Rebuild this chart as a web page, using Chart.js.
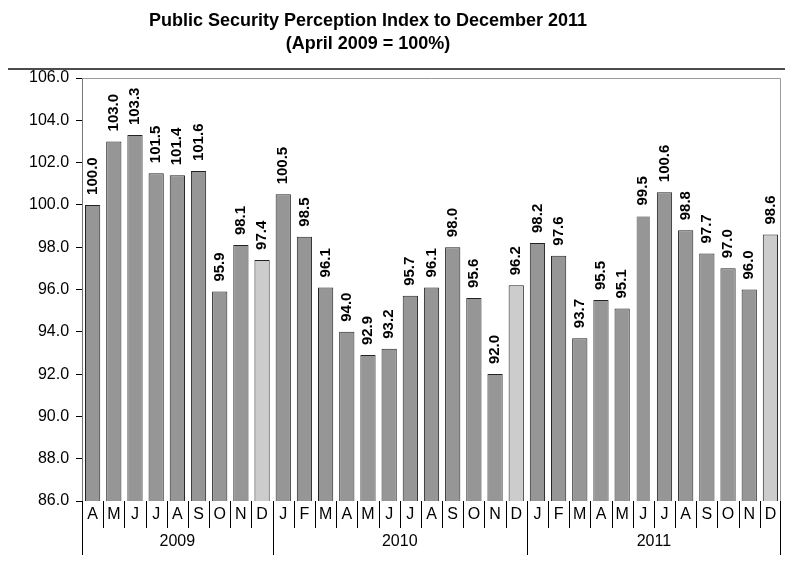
<!DOCTYPE html>
<html>
<head>
<meta charset="utf-8">
<script src="https://cdn.jsdelivr.net/npm/chart.js@4"></script>
<style>
  body { margin: 0; background: #fff; }
  #wrap { width: 785px; height: 566px; }
</style>
</head>
<body>
<div id="wrap"><canvas id="myChart"></canvas></div>
<script>
// months shown under each bar
const months = ["A","M","J","J","A","S","O","N","D",
  "J","F","M","A","M","J","J","A","S","O","N","D",
  "J","F","M","A","M","J","J","A","S","O","N","D"];

// year groups: label + how many months it covers
const years = ["2009", "2010", "2011"];
const yearSpans = [9, 12, 12];

// index values (April 2009 = 100)
const values = [100.0, 103.0, 103.3, 101.5, 101.4, 101.6, 95.9, 98.1, 97.4,
  100.5, 98.5, 96.1, 94.0, 92.9, 93.2, 95.7, 96.1, 98.0, 95.6, 92.0, 96.2,
  98.2, 97.6, 93.7, 95.5, 95.1, 99.5, 100.6, 98.8, 97.7, 97.0, 96.0, 98.6];

const titleLines = ["Public Security Perception Index to December 2011", "(April 2009 = 100%)"];

const FONT = "'Liberation Sans', Arial, Helvetica, sans-serif";

const barColors = values.map((v, i) => {
  if (months[i] === "D") return "#cccccc";
  return "#969696";
});
const borderColors = values.map((v, i) => (i === 26 ? "rgba(0,0,0,0)" : "#222"));

// draws title, value labels, month / year rows and the frame
const decorations = {
  id: "decorations",
  afterDraw(chart) {
    const ctx = chart.ctx;
    const area = chart.chartArea;
    const x = chart.scales.x;
    const meta = chart.getDatasetMeta(0);
    const half = (x.getPixelForValue(1) - x.getPixelForValue(0)) / 2;

    ctx.save();

    // title
    ctx.fillStyle = "#000";
    ctx.font = "bold 18px " + FONT;
    ctx.textAlign = "center";
    ctx.textBaseline = "alphabetic";
    ctx.fillText(titleLines[0], 368, 26);
    ctx.fillText(titleLines[1], 368, 49);

    // rule under the title
    ctx.strokeStyle = "#111";
    ctx.lineWidth = 1.5;
    ctx.beginPath();
    ctx.moveTo(8, 69);
    ctx.lineTo(785, 69);
    ctx.stroke();

    // frame top / right
    ctx.strokeStyle = "#999";
    ctx.lineWidth = 1;
    ctx.beginPath();
    ctx.moveTo(area.left, area.top + 0.5);
    ctx.lineTo(area.right - 0.5, area.top + 0.5);
    ctx.lineTo(area.right - 0.5, area.bottom);
    ctx.stroke();

    // value labels
    ctx.font = "bold 15px " + FONT;
    ctx.textAlign = "left";
    ctx.textBaseline = "middle";
    meta.data.forEach((bar, i) => {
      ctx.save();
      ctx.translate(bar.x, bar.y - 10);
      ctx.rotate(-Math.PI / 2);
      ctx.fillText(values[i].toFixed(1), 0, 0);
      ctx.restore();
    });

    // month row
    const rowTop = area.bottom;
    const rowMid = rowTop + 27;
    const rowBot = rowTop + 54;
    ctx.strokeStyle = "#000";
    ctx.lineWidth = 1;
    ctx.font = "16px " + FONT;
    ctx.textAlign = "center";
    months.forEach((m, i) => {
      const cx = x.getPixelForValue(i);
      ctx.fillText(m, cx, rowTop + 14);
      const sx = Math.round(cx - half) + 0.5;
      ctx.beginPath();
      ctx.moveTo(sx, rowTop);
      ctx.lineTo(sx, rowMid);
      ctx.stroke();
    });
    const lastX = Math.round(x.getPixelForValue(months.length - 1) + half) - 0.5;
    ctx.beginPath();
    ctx.moveTo(lastX, rowTop);
    ctx.lineTo(lastX, rowMid);
    ctx.stroke();

    // year row
    let start = 0;
    years.forEach((y, k) => {
      const end = start + yearSpans[k] - 1;
      const x0 = x.getPixelForValue(start) - half;
      const x1 = x.getPixelForValue(end) + half;
      ctx.fillText(y, (x0 + x1) / 2, rowMid + 14);
      [x0, x1].forEach(px => {
        const sx = Math.min(Math.round(px) + 0.5, lastX);
        ctx.beginPath();
        ctx.moveTo(sx, rowMid);
        ctx.lineTo(sx, rowBot);
        ctx.stroke();
      });
      start = end + 1;
    });

    ctx.restore();
  }
};

const ctx = document.getElementById("myChart").getContext("2d");
const chart = new Chart(ctx, {
  type: "bar",
  data: {
    labels: months,
    datasets: [{
      data: values,
      backgroundColor: barColors,
      borderColor: borderColors,
      borderWidth: 1,
      barPercentage: 0.72,
      categoryPercentage: 1.0
    }]
  },
  plugins: [decorations],
  options: {
    responsive: true,
    maintainAspectRatio: false,
    animation: false,
    layout: { padding: { left: 22, right: 4, top: 78, bottom: 57 } },
    plugins: {
      legend: { display: false },
      tooltip: { enabled: false },
      title: { display: false }
    },
    scales: {
      x: {
        grid: { display: false },
        border: { display: false },
        ticks: { display: false }
      },
      y: {
        min: 86,
        max: 106,
        ticks: {
          stepSize: 2,
          color: "#000",
          font: { family: FONT, size: 16 },
          padding: 7,
          callback: v => Number(v).toFixed(1)
        },
        grid: { drawOnChartArea: false, tickLength: 6, color: "#000" },
        border: { display: true, color: "#777", width: 1 }
      }
    }
  }
});
</script>
</body>
</html>
